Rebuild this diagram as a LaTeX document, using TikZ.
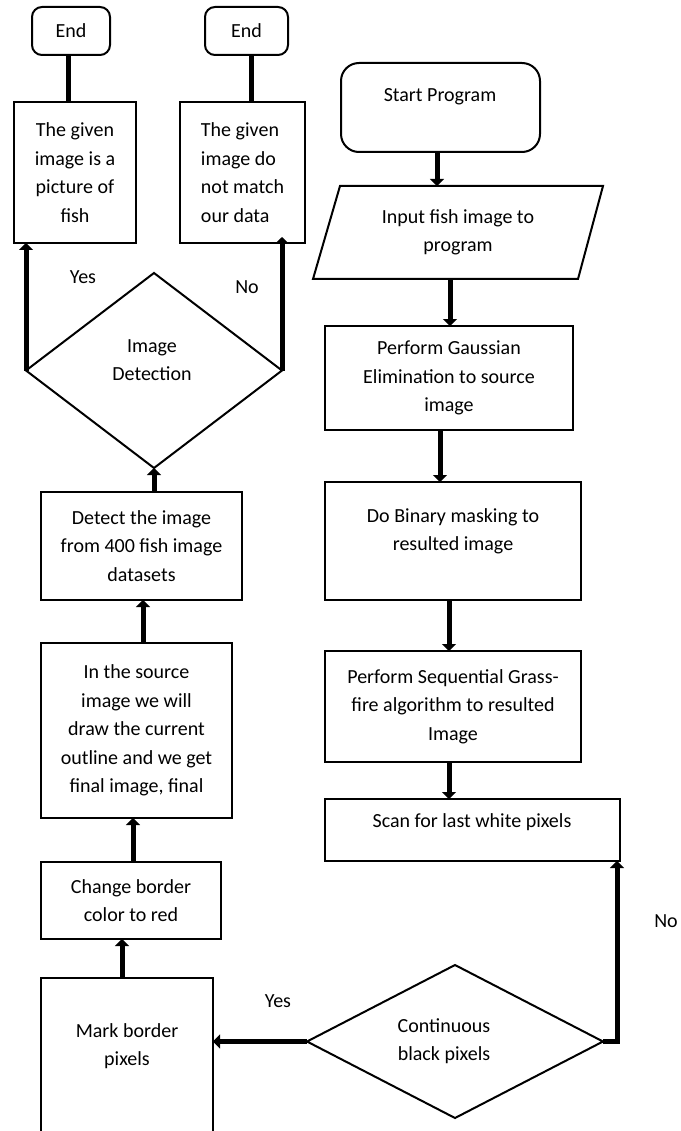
\documentclass[tikz,border=0pt]{standalone}
\usepackage{fontspec}
\setmainfont{Carlito}
\usetikzlibrary{shapes.geometric,arrows.meta,calc}
\begin{document}
\begin{tikzpicture}[x=1pt,y=-1pt,
  every node/.style={font=\fontsize{20}{28.5}\selectfont, inner sep=0pt, outer sep=0pt},
  box/.style={draw, line width=2pt, align=center},
  endbox/.style={box, rounded corners=10pt},
  dia/.style={draw, line width=2pt, diamond},
  flow/.style={line width=5pt, -{Triangle[width=14pt,length=7pt]}},
  link/.style={line width=5pt},
  txt/.style={align=center}
]
\clip (0,0) rectangle (680,1131);
% left column
\node[endbox, minimum width=78, minimum height=48] (end1) at (71,31) {End};
\node[endbox, minimum width=83, minimum height=48] (end2) at (246.5,31) {End};
\node[box, minimum width=122, minimum height=141] (fish) at (75,172.5) {The given\\image is a\\picture of\\fish};
\node[box, align=left, minimum width=125, minimum height=141] (nomatch) at (242.5,172.5) {The given\\image do\\not match\\our data};
\node[dia, minimum width=256, minimum height=195] (d1) at (154,370.5) {};
\node[txt] (d1t) at (152,360) {Image\\Detection};
\node[box, minimum width=201, minimum height=108] (detect) at (141.5,546) {Detect the image\\from 400 fish image\\datasets};
\node[box, minimum width=191, minimum height=175] (source) at (136.5,730.5) {In the source\\image we will\\draw the current\\outline and we get\\final image, final};
\node[box, minimum width=180, minimum height=77] (change) at (131,900.5) {Change border\\color to red};
\node[box, minimum width=172, minimum height=162] (mark) at (127,1059) {};
\node[txt] (markt) at (127,1046) {Mark border\\pixels};
% right column
\node[box, rounded corners=18pt, minimum width=199, minimum height=89] (start) at (440.5,107.5) {};
\node[txt] (startt) at (440,97) {Start Program};
\node[txt, minimum width=264, minimum height=93] (input) at (458,232.5) {Input fish image to\\program};
\draw[line width=2pt, line join=miter]
  ($(input.north west)+(14,0)$) -- ($(input.north east)+(13,0)$) --
  ($(input.south east)+(-12,0)$) -- ($(input.south west)+(-13,0)$) -- cycle;
\node[box, minimum width=248, minimum height=104] (gauss) at (449,378) {Perform Gaussian\\Elimination to source\\image};
\node[box, minimum width=256, minimum height=118] (binary) at (453,541) {};
\node[txt] (binaryt) at (453,531.5) {Do Binary masking to\\resulted image};
\node[box, minimum width=256, minimum height=111] (seq) at (453,706.5) {Perform Sequential Grass-\\fire algorithm to resulted\\Image};
\node[box, minimum width=295, minimum height=62] (scan) at (472.5,830) {};
\node[txt] (scant) at (472,822) {Scan for last white pixels};
\node[dia, minimum width=296, minimum height=153] (d2) at (455,1041.5) {};
\node[txt] (d2t) at (444,1041) {Continuous\\black pixels};
% labels
\node (yes1) at (83,277) {Yes};
\node (no1) at (247,287) {No};
\node (yes2) at (278,1001) {Yes};
\node (no2) at (666,921) {No};
% connectors right column
\draw[flow] ([xshift=-3.5]start.south) -- ([xshift=-3.5]start.south |- input.north);
\draw[flow] ([xshift=-8]input.south) -- ([xshift=-8]input.south |- gauss.north);
\draw[flow] ([xshift=-9]gauss.south) -- ([xshift=-9]gauss.south |- binary.north);
\draw[flow] ([xshift=-4]binary.south) -- ([xshift=-4]binary.south |- seq.north);
\draw[flow] ([xshift=-4]seq.south) -- ([xshift=-4]seq.south |- scan.north);
\draw[flow] (d2.east) -| ([xshift=-3]scan.south east);
\draw[flow] (d2.west) -- (d2.west -| mark.east);
% connectors left column
\draw[flow] ([xshift=-5]mark.north) -- ([xshift=-5]mark.north |- change.south);
\draw[flow] ([xshift=2]change.north) -- ([xshift=2]change.north |- source.south);
\draw[flow] ([xshift=6.5]source.north) -- ([xshift=6.5]source.north |- detect.south);
\draw[flow] (d1.south |- detect.north) -- (d1.south);
\draw[flow] (d1.west) -- (d1.west |- fish.south);
\draw[flow] (d1.east) -- ([yshift=6]d1.east |- nomatch.south);
\draw[link] ([xshift=-3]end1.south) -- ([xshift=-3]end1.south |- fish.north);
\draw[link] ([xshift=4.5]end2.south) -- ([xshift=4.5]end2.south |- nomatch.north);
\end{tikzpicture}
\end{document}
